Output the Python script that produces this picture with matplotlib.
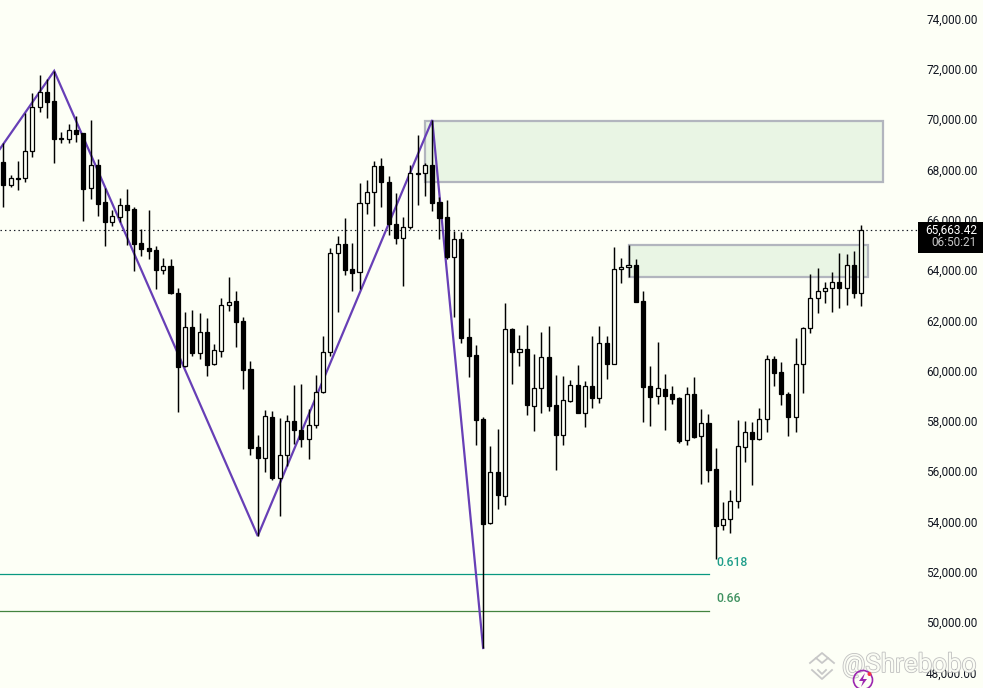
#!/usr/bin/python3

import numpy as np

import matplotlib as mpl
mpl.use('agg')
import matplotlib.pyplot as plt
import matplotlib.patheffects as pe
from matplotlib.patches import Rectangle, Circle, Polygon
from matplotlib.transforms import Affine2D

plt.rcParams['font.family'] = ['Roboto', 'DejaVu Sans']

opens = [68280,67395,67660,67645,68720,70470,71065,70705,69225,69225,
         69570,69450,67250,68165,66690,65925,66120,66575,66415,65060,
         64865,64785,64015,64150,63075,60175,61725,60715,61525,60255,
         60795,62600,62755,61960,60055,56955,56540,58145,55745,56635,
         57985,57630,57270,57830,59140,60730,64665,65020,64030,63910,
         66650,67090,68125,67485,65845,65285,65725,67830,67845,68160,
         66690,66095,64530,65220,61325,60610,58065,53955,55960,55030,
         61640,60755,60850,58610,59295,60530,58620,57455,58805,59415,
         58330,59375,58925,61085,60280,64030,64105,64185,62755,59375,
         58980,59260,59060,58900,57230,59060,57390,57905,56080,53850,
         54090,54805,56950,57550,57270,58065,60450,59935,59060,58145,
         60250,61680,62875,63155,63270,63510,63270,64185,63075]
closes = [67395,67645,67630,68720,70470,71065,70695,69225,69250,69555,
          69420,67235,68165,66640,65925,66135,66575,66400,65050,64850,
          64770,64015,64150,63100,60160,61725,60715,61525,60240,60810,
          62600,62745,61950,60040,56940,56540,58185,55745,56635,57985,
          57630,57270,57830,59140,60730,64665,65020,64015,63895,66650,
          67090,68125,67485,65845,65285,65725,67845,67860,68160,66680,
          66080,64530,65220,61310,60595,58055,53920,55960,55070,61640,
          60755,60850,58650,59295,60530,58610,57455,58820,59415,58330,
          59375,58925,61085,60280,64030,64105,64185,62740,59365,58965,
          59295,59005,58885,57215,59060,57375,57905,56065,53840,54090,
          54805,56990,57550,57270,58065,60450,59920,59060,58145,60250,
          61680,62875,63155,63270,63510,63270,64185,63075,65580]
highs = [69040,67765,68335,70230,71025,71755,71580,71915,69475,69795,
         70125,69460,69950,68415,67250,66390,66850,67210,66495,65620,
         66390,64955,64465,64425,63275,62320,62410,62280,62080,61060,
         62875,63710,63155,62120,60370,57445,58425,58385,58105,58225,
         59420,59470,58465,59815,61365,64865,65340,66055,65060,67445,
         67565,68335,68440,67725,67050,66095,68160,69370,68255,69965,
         66915,66770,65550,65500,62080,61010,58170,57005,57670,62675,
         61680,61405,61800,60650,61525,61760,59815,59775,59615,60210,
         59575,61365,61760,61365,64900,64465,64995,64425,63155,60170,
         61125,59855,59375,58965,59335,59735,58460,58265,56910,54765,
         55245,58025,57985,57945,58500,60610,60570,60330,59140,61285,
         61720,63830,64065,63510,63910,64665,64625,64745,65775]
lows = [66520,67315,67180,67515,68510,70295,70060,68270,69065,69065,
        69105,65965,66840,66160,64970,65765,65925,64995,63975,64570,
        64455,63260,63855,63060,58370,60130,60585,60480,59800,60225,
        60555,62385,60955,59285,56660,53425,55985,55670,54235,56210,
        57085,56980,56500,57735,59115,60595,62345,63805,63180,63260,
        66240,65765,66520,65405,65050,63380,65645,66585,66945,66360,
        65250,64455,62145,61115,59760,57060,48970,53905,54515,54675,
        59480,60200,58250,57615,58330,58410,56065,57060,58765,58305,
        57775,58530,58730,59680,60250,63500,63710,62715,57970,57815,
        58690,57655,58690,57140,57060,57335,55510,55585,52510,53680,
        53560,54525,56355,55470,57245,57575,59405,58650,57415,57575,
        59125,61510,62305,62700,62345,62505,62625,62900,62585]

zigzag_x = [0.5, 8, 36, 60, 67]
zigzag_y = [68800, 71915, 53425, 69965, 48970]

fib_labels = ['0.618', '0.66']
fib_prices = [51910, 50430]
fib_colors = ['#089981', '#43843f']
fib_text_colors = ['#1f9e8a', '#3f9160']
fib_text_y = [52390, 50920]

zones = [(59, 122, 67500, 69925), (87, 120, 63725, 64995)]

price_ticks = list(range(48000, 76000, 2000))
last_price_label = '65,663.42'
countdown_label = '06:50:21'

BG = '#fdfff6'

fig = plt.figure(figsize=(9.83, 6.88), dpi=100, facecolor=BG)
ax = fig.add_axes([0, 0, 1, 1], facecolor=BG)
ax.set_xlim(0.546, 135.76)
ax.set_ylim(47381, 74736)
for s in ax.spines.values():
    s.set_visible(False)
ax.set_xticks([])

ax.yaxis.tick_right()
ax.set_yticks(price_ticks)
ax.set_yticklabels(['{:,.2f}'.format(p) for p in price_ticks])
ax.tick_params(axis='y', direction='in', length=0, pad=-41, labelsize=8.5, labelcolor='#131722')

idx = np.arange(1, len(opens) + 1)
opens = np.array(opens)
closes = np.array(closes)

# zones first, everything else sits on top of them
for x0, x1, y0, y1 in zones:
    ax.add_patch(Rectangle((x0, y0), x1 - x0, y1 - y0, facecolor='#e9f5e4',
                           edgecolor='#b2b5be', linewidth=1.6, zorder=1.2))

# current price line
ax.plot([0.546, 126.8], [closes[-1], closes[-1]], color='#131722', lw=0.85,
        dashes=(1.2, 2.6), zorder=1.3)

for p, c, y_lab, t, tc in zip(fib_prices, fib_colors, fib_text_y, fib_labels, fib_text_colors):
    ax.plot([0.546, 98.07], [p, p], color=c, lw=0.9, zorder=1.4)
    ax.text(99.05, y_lab, t, color=tc, fontsize=8.8, fontweight='medium', va='center', ha='left')

ax.plot(zigzag_x, zigzag_y, color='#673fb6', lw=1.6, zorder=2, solid_joinstyle='miter')

# candles
ax.vlines(idx, lows, highs, color='black', lw=1.05, zorder=3)
up = closes >= opens
ax.bar(idx[up], (closes - opens)[up], bottom=opens[up], width=0.56, color=BG,
       edgecolor='black', linewidth=0.9, zorder=4)
ax.bar(idx[~up], (closes - opens)[~up], bottom=opens[~up], width=0.56, color='black',
       edgecolor='black', linewidth=0.9, zorder=4)

# last price tag, in pixels from the top left
px = Affine2D().scale(1, -1).translate(0, 688)
ax.add_patch(Rectangle((918, 222), 65, 31, transform=px, facecolor='black',
                       edgecolor='none', zorder=5, clip_on=False))
ax.text(977, 230, last_price_label, transform=px, color='white', fontsize=8.5,
        ha='right', va='center', zorder=6)
ax.text(977, 243, countdown_label, transform=px, color='#c8c8c8', fontsize=8.5,
        ha='right', va='center', zorder=6)

# watermark
ax.text(842, 665, '@Shrebobo', transform=px, color=BG, fontsize=18.7, ha='left', va='center',
        alpha=0.95, zorder=7, path_effects=[pe.withStroke(linewidth=1.2, foreground='#bdbdbd')])
for pts in ([(810, 663), (816, 658), (822, 663), (828, 658), (834, 663)],
            [(816, 658), (822, 653), (828, 658)],
            [(812, 670), (822, 679), (832, 670)],
            [(818, 670), (822, 674), (826, 670)]):
    ax.plot(*zip(*pts), transform=px, color='#c8c8c8', lw=1.3, zorder=7, clip_on=False)

ax.add_patch(Circle((863, 680), 9.5, transform=px, facecolor='none', edgecolor='#9c27b0',
                    linewidth=1.2, zorder=8, clip_on=False))
ax.add_patch(Polygon([(865, 673), (859, 681), (863, 681), (861, 687), (867, 679), (863, 679)],
                     transform=px, facecolor='#9c27b0', edgecolor='none', zorder=8))
ax.add_patch(Circle((869.5, 674), 2, transform=px, facecolor='#f23645', edgecolor='none', zorder=8))

fig.savefig('out.png', dpi=100, facecolor=BG)
